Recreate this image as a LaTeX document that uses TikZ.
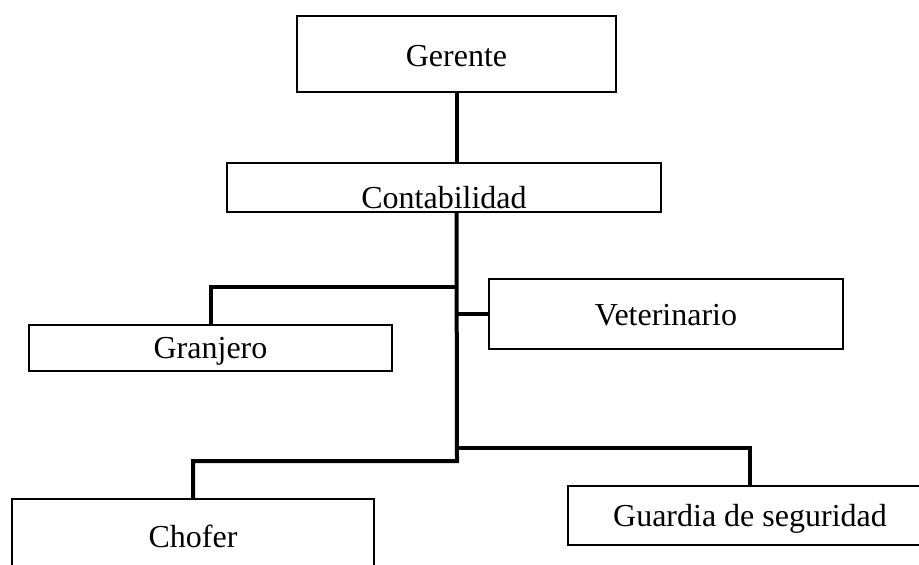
\documentclass[tikz,border=0pt]{standalone}
\usepackage{fontspec}
\setmainfont{Liberation Serif}
\usetikzlibrary{positioning}
\tikzset{
  puesto/.style={
    rectangle,
    draw=black, line width=1pt,
    inner sep=0pt,
    text depth=0pt,
    font=\fontsize{16}{19}\selectfont,
    text centered},
  linea/.style={draw, line width=2pt},
}

\begin{document}
\begin{tikzpicture}[x=0.5pt, y=-0.5pt]
\useasboundingbox (0,0) rectangle (919,564);
\node[puesto, minimum width=159.5pt, minimum height=38pt, text height=12pt] (gerente) at (456.5,54) {Gerente};
\node[puesto, minimum width=217pt, minimum height=24.5pt, text height=20.5pt] (conta) at (444,187.5) {Contabilidad};
\node[puesto, minimum width=181.5pt, minimum height=23pt, text height=10pt] (granjero) at (210.5,348) {Granjero};
\node[puesto, minimum width=177pt, minimum height=35pt, text height=11pt] (vete) at (666,314) {Veterinario};
\node[puesto, minimum width=181pt, minimum height=50pt, text height=10pt, text depth=12pt] (chofer) at (193,549) {Chofer};
\node[puesto, minimum width=182pt, minimum height=29.5pt, text height=10.5pt] (guardia) at (750,515.5) {Guardia de seguridad};

% tronco y ramas
\coordinate (tronco) at (457,461);
\coordinate (ramaG) at (457,287);
\coordinate (ramaS) at (457,448);
\draw[linea] (gerente.south) -- (gerente.south |- conta.north);
\draw[linea] (gerente.south |- conta.south) -- (tronco) -| (chofer.north);
\draw[linea] (ramaG) -| (granjero.north);
\draw[linea] (tronco |- vete.west) -- (vete.west);
\draw[linea] (ramaS) -| (guardia.north);
\end{tikzpicture}
\end{document}
